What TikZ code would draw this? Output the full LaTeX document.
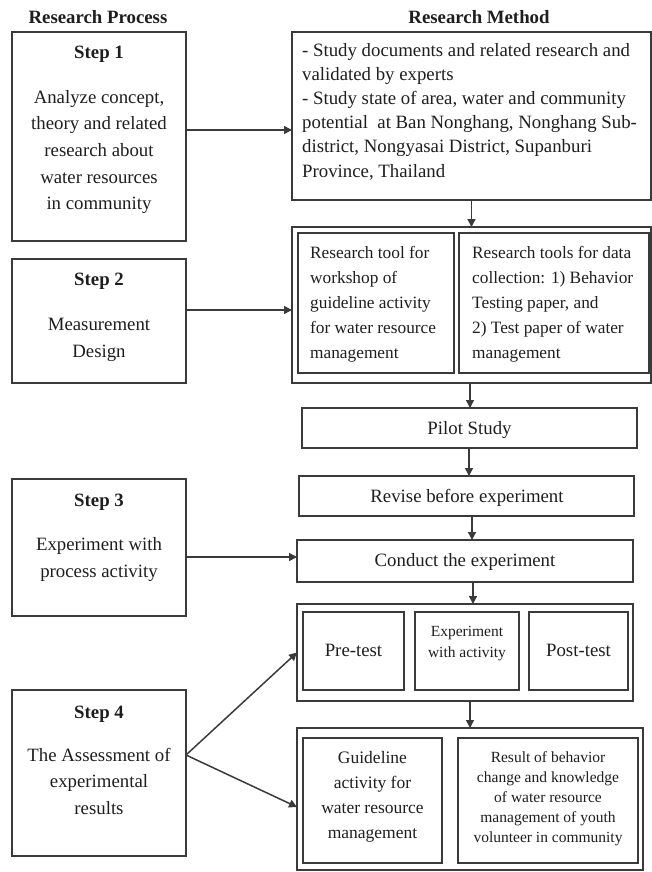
\documentclass[tikz,border=0pt]{standalone}
\usepackage{fontspec}
\setmainfont{Liberation Serif}
\usetikzlibrary{fit,arrows.meta}
\definecolor{linec}{HTML}{3A3A3A}
\definecolor{textc}{HTML}{1E1E1E}
\begin{document}
\begin{tikzpicture}[x=1bp,y=-1bp,
  box/.style={draw=linec, line width=1.3bp, inner sep=0pt, outer sep=0pt},
  arr/.style={draw=linec, line width=1.5bp, -{Triangle[length=8bp,width=8bp]}},
  lbl/.style={text=textc, inner sep=0pt, anchor=base},
  head/.style={lbl, font=\fontsize{18.8bp}{22bp}\selectfont\bfseries},
  steptxt/.style={lbl, align=center, font=\fontsize{18.8bp}{#1bp}\selectfont},
  lefttxt/.style={lbl, anchor=base west, align=left, font=\fontsize{18.8bp}{#1bp}\selectfont},
  tooltxt/.style={lbl, anchor=base west, align=left, font=\fontsize{17.3bp}{#1bp}\selectfont},
  midtxt/.style={lbl, align=center, font=\fontsize{17.5bp}{#1bp}\selectfont},
  smalltxt/.style={lbl, align=center, font=\fontsize{15.5bp}{#1bp}\selectfont}
]
\useasboundingbox (0,0) rectangle (652,872);

% column headings
\node[head] (hp) at (98,23) {Research Process};
\node[head] (hm) at (479,23) {Research Method};

% research process column (multi-line texts are placed by their last baseline)
\node[box, fit={(12,32) (186,241)}] (s1) {};
\node[head] (s1h) at (99,58) {Step 1};
\node[steptxt=26.7] (s1t) at (99,209.8) {Analyze concept,\\theory and related\\research about\\water resources\\in community};

\node[box, fit={(12,259) (186,383)}] (s2) {};
\node[head] (s2h) at (99,285) {Step 2};
\node[steptxt=27] (s2t) at (99,357) {Measurement\\Design};

\node[box, fit={(12,479) (186,616)}] (s3) {};
\node[head] (s3h) at (99,506) {Step 3};
\node[steptxt=27] (s3t) at (99,577) {Experiment with\\process activity};

\node[box, fit={(12,690) (186,856)}] (s4) {};
\node[head] (s4h) at (99,718) {Step 4};
\node[steptxt=26.5] (s4t) at (99,814) {The Assessment of\\experimental\\results};

% research method column
\node[box, fit={(292,32) (651,200)}] (m1) {};
\node[lefttxt=24.2] (m1t) at (302,177) {- Study documents and related research and\\validated by experts\\- Study state of area, water and community\\potential\ \ at Ban Nonghang, Nonghang Sub-\\district, Nongyasai District, Supanburi\\Province, Thailand};

\node[box, fit={(292,227) (651,383)}] (m2) {};
\node[box, fit={(298,233) (454,373)}] (m2a) {};
\node[box, fit={(459,233) (649,373)}] (m2b) {};
\node[tooltxt=25.2] (m2at) at (310,358.8) {Research tool for\\workshop of\\guideline activity\\for water resource\\management};
\node[tooltxt=25.2] (m2bt) at (472,358.8) {Research tools for data\\collection: 1) Behavior\\Testing paper, and\\2) Test paper of water\\management};

\node[box, fit={(302,408) (637,448)}] (pilot) {};
\node[steptxt=22] (pilott) at (469.5,434) {Pilot Study};

\node[box, fit={(299,476) (634,516)}] (rev) {};
\node[steptxt=22] (revt) at (467,502) {Revise before experiment};

\node[box, fit={(297,540) (633,582)}] (cond) {};
\node[steptxt=22] (condt) at (465,566) {Conduct the experiment};

\node[box, fit={(297,604) (633,701)}] (exp) {};
\node[box, fit={(303,612) (404,690)}] (pre) {};
\node[box, fit={(415,612) (519,690)}] (act) {};
\node[box, fit={(529,612) (628,690)}] (post) {};
\node[steptxt=22] (pret) at (353.5,656) {Pre-test};
\node[smalltxt=21.5] (actt) at (467,657.5) {Experiment\\with activity};
\node[steptxt=22] (postt) at (578.5,656) {Post-test};

\node[box, fit={(297,728) (643,870)}] (res) {};
\node[box, fit={(303,738) (442,863)}] (resa) {};
\node[box, fit={(458,738) (638,863)}] (resb) {};
\node[midtxt=25] (resat) at (372.5,838) {Guideline\\activity for\\water resource\\management};
\node[smalltxt=20] (resbt) at (548,842) {Result of behavior\\change and knowledge\\of water resource\\management of youth\\volunteer in community};

% connectors from steps to methods
\draw[arr] (s1.east |- 0,130) -- (m1.west |- 0,130);
\draw[arr] (s2.east |- 0,310) -- (m2.west |- 0,310);
\draw[arr] (s3.east |- 0,557) -- (cond.west |- 0,557);
\draw[arr] (s4.east |- 0,755) -- (exp.west);
\draw[arr] (s4.east |- 0,755) -- (res.west |- 0,807);

% flow down the method column
\draw[arr] (m1.south) -- (m1.south |- m2.north);
\draw[arr] (m2.south -| 470,0) -- (pilot.north -| 470,0);
\draw[arr] (pilot.south -| 469,0) -- (rev.north -| 469,0);
\draw[arr] (rev.south -| 472,0) -- (cond.north -| 472,0);
\draw[arr] (cond.south -| 473,0) -- (exp.north -| 473,0);
\draw[arr] (exp.south -| 470,0) -- (res.north -| 470,0);
\end{tikzpicture}
\end{document}
